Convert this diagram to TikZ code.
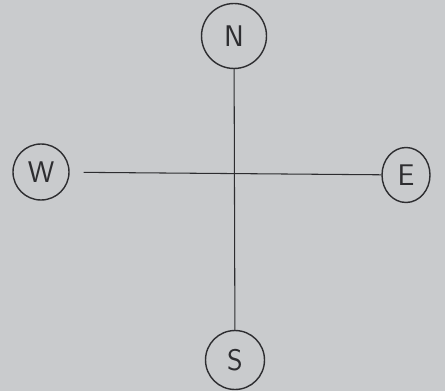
\documentclass[tikz,border=0pt]{standalone}
\usepackage{tikz}
\usetikzlibrary{shapes.geometric, positioning, calc}
\definecolor{paper}{RGB}{201,203,205}
\definecolor{pencil}{RGB}{45,45,48}
\tikzstyle{dir} = [circle, draw=pencil, thick, text=pencil, text centered, minimum size=1.12cm, inner sep=0pt, font=\sffamily\fontsize{17}{17}\selectfont]
\tikzstyle{direll} = [ellipse, draw=pencil, thick, text=pencil, text centered, minimum width=0.96cm, minimum height=1.1cm, inner sep=0pt, font=\sffamily\fontsize{17}{17}\selectfont]
\tikzstyle{axis} = [draw=pencil, semithick]

\begin{document}
\begin{tikzpicture}[x=0.02cm, y=-0.02cm]

	% Paper
	\fill[paper] (0,0) rectangle (445,391);
	\useasboundingbox (0,0) rectangle (445,391);

	% Directions
	\node (north) [dir, minimum width=1.3cm] at (234,36) {N};
	\node (west)  [dir] at (41,172) {W};
	\node (east)  [direll] at (406,175) {E};
	\node (south) [dir, minimum size=1.18cm] at (235,360) {S};

	% Cross
	\draw[axis] (north) -- (south);
	\draw[axis, shorten <=0.28cm] (west) -- (east);

\end{tikzpicture}
\end{document}
